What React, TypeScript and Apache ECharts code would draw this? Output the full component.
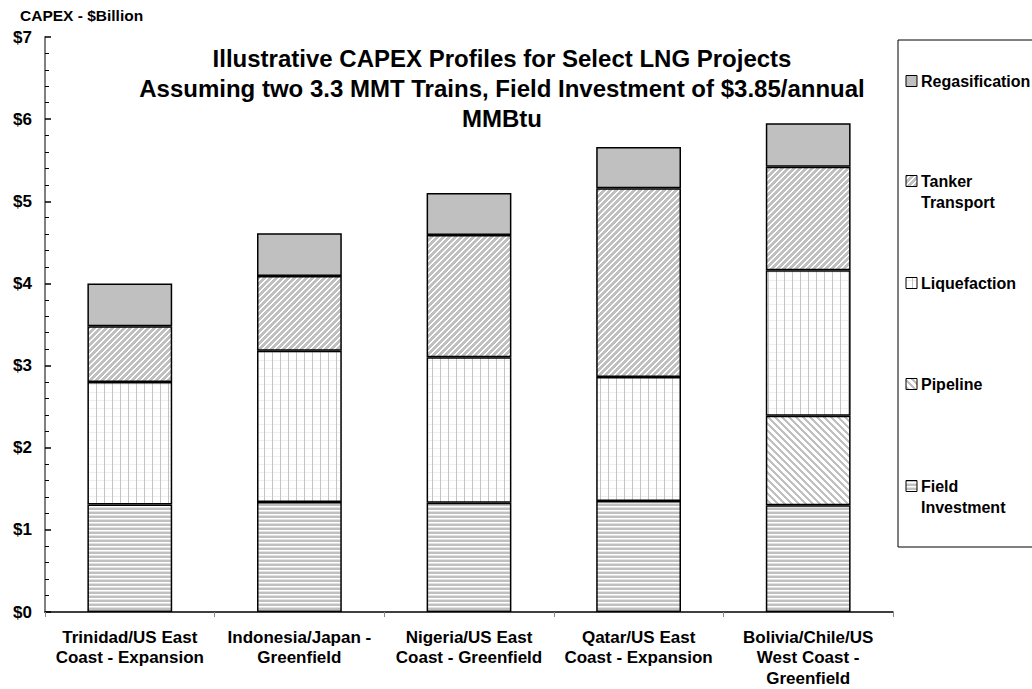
import React, { useEffect, useRef } from "react";
import * as echarts from "echarts";

const categories = [
  "Trinidad/US East\nCoast - Expansion",
  "Indonesia/Japan -\nGreenfield",
  "Nigeria/US East\nCoast - Greenfield",
  "Qatar/US East\nCoast - Expansion",
  "Bolivia/Chile/US\nWest Coast -\nGreenfield",
];
const fieldInvestment = [1.31, 1.34, 1.33, 1.35, 1.30];
const pipeline = [null, null, null, null, 1.09];
const liquefaction = [1.49, 1.84, 1.77, 1.51, 1.77];
const tankerTransport = [0.68, 0.91, 1.49, 2.30, 1.26];
const regasification = [0.52, 0.52, 0.51, 0.50, 0.53];
const yTicks = [0, 1, 2, 3, 4, 5, 6, 7];

const FONT = "'Liberation Sans', Arial, sans-serif";

function makePattern(w: number, h: number, fn: (x: number, y: number) => string) {
  const c = document.createElement("canvas");
  c.width = w;
  c.height = h;
  const ctx = c.getContext("2d")!;
  for (let y = 0; y < h; y++) {
    for (let x = 0; x < w; x++) {
      ctx.fillStyle = fn(x, y);
      ctx.fillRect(x, y, 1, 1);
    }
  }
  return { image: c, repeat: "repeat", imageWidth: w, imageHeight: h } as any;
}

export default function App() {
  const ref = useRef<HTMLDivElement>(null);
  useEffect(() => {
    const chart = echarts.init(ref.current!, null, { renderer: "svg" });
    const G = "#c0c0c0";
    const fieldPat = makePattern(4, 4, (x, y) => (y % 4 < 2 ? G : y % 4 === 2 ? "#ffffff" : "#e2e2e2"));
    const liqPat = makePattern(8, 8, (x, y) => (x === 0 ? "#c4c4c4" : y === 0 ? "#eeeeee" : "#ffffff"));
    const tankPat = makePattern(6, 6, (x, y) => ((x + y) % 6 < 4 ? G : "#ffffff"));
    const pipePat = makePattern(7, 7, (x, y) => ((((x - y) % 7) + 7) % 7 < 3 ? G : "#ffffff"));
    const regasCol = "#c0c0c0";

    const names = ["Field Investment", "Pipeline", "Liquefaction", "Tanker Transport", "Regasification"];
    const fills = [fieldPat, pipePat, liqPat, tankPat, regasCol];
    const datas = [fieldInvestment, pipeline, liquefaction, tankerTransport, regasification];

    const series = names.map((n, i) => ({
      name: n,
      type: "bar",
      stack: "capex",
      barWidth: "50%",
      data: datas[i].map((v) => (v == null ? "-" : v)),
      itemStyle: { color: fills[i], borderColor: "#000", borderWidth: 1.5 },
    }));

    const legendItems = [
      { label: "Regasification", y: 81, fill: regasCol },
      { label: "Tanker\nTransport", y: 181, fill: tankPat },
      { label: "Liquefaction", y: 283, fill: liqPat },
      { label: "Pipeline", y: 384, fill: pipePat },
      { label: "Field\nInvestment", y: 486, fill: fieldPat },
    ];
    const legendGraphics: any[] = [
      {
        type: "rect",
        shape: { x: 898, y: 40, width: 400, height: 507 },
        style: { fill: "#fff", stroke: "#000", lineWidth: 1 },
        z: 0,
      },
    ];
    legendItems.forEach((it) => {
      legendGraphics.push({
        type: "rect",
        shape: { x: 906, y: it.y - 5.5, width: 11, height: 11 },
        style: { fill: it.fill, stroke: "#000", lineWidth: 1 },
      });
      legendGraphics.push({
        type: "text",
        x: 921,
        y: it.y - 10.5,
        style: {
          text: it.label,
          font: `bold 16px ${FONT}`,
          fill: "#000",
          lineHeight: 21,
          textAlign: "left",
          textVerticalAlign: "top",
        },
      });
    });

    chart.setOption({
      animation: false,
      textStyle: { fontFamily: FONT },
      title: {
        text: "Illustrative CAPEX Profiles for Select LNG Projects\nAssuming two 3.3 MMT Trains, Field Investment of $3.85/annual\nMMBtu",
        left: 497,
        top: 38,
        textAlign: "center",
        textStyle: { fontSize: 24, fontWeight: "bold", color: "#000", lineHeight: 30, fontFamily: FONT },
      },
      grid: { left: 45, top: 37, width: 848, height: 575, containLabel: false, outerBoundsMode: "none" },
      xAxis: {
        type: "category",
        data: categories,
        axisLine: { lineStyle: { color: "#000", width: 1.5 } },
        axisTick: { show: true, length: 5, lineStyle: { color: "#888" } },
        axisLabel: {
          fontSize: 17,
          fontWeight: "bold",
          color: "#000",
          lineHeight: 20.5,
          margin: 15,
          interval: 0,
          fontFamily: FONT,
        },
      },
      yAxis: {
        type: "value",
        min: yTicks[0],
        max: yTicks[yTicks.length - 1],
        interval: 1,
        axisLine: { show: true, lineStyle: { color: "#808080", width: 2 } },
        axisTick: { show: true, inside: true, length: 6, lineStyle: { color: "#000", width: 1.5 } },
        minorTick: { show: true, splitNumber: 5, length: 4, lineStyle: { color: "#000", width: 1 } },
        splitLine: { show: false },
        axisLabel: {
          formatter: (v: number) => "$" + v,
          fontSize: 17,
          fontWeight: "bold",
          color: "#000",
          margin: 13,
          fontFamily: FONT,
        },
      },
      series,
      graphic: [
        {
          type: "text",
          x: 20,
          y: 15,
          style: {
            text: "CAPEX - $Billion",
            font: `bold 15.5px ${FONT}`,
            fill: "#000",
            textAlign: "left",
            textVerticalAlign: "middle",
          },
        },
        ...legendGraphics,
      ],
    });
    return () => chart.dispose();
  }, []);
  return (
    <div
      ref={ref}
      style={{ position: "fixed", left: 0, top: 0, width: 1032, height: 689, background: "#fff", overflow: "hidden" }}
    />
  );
}
